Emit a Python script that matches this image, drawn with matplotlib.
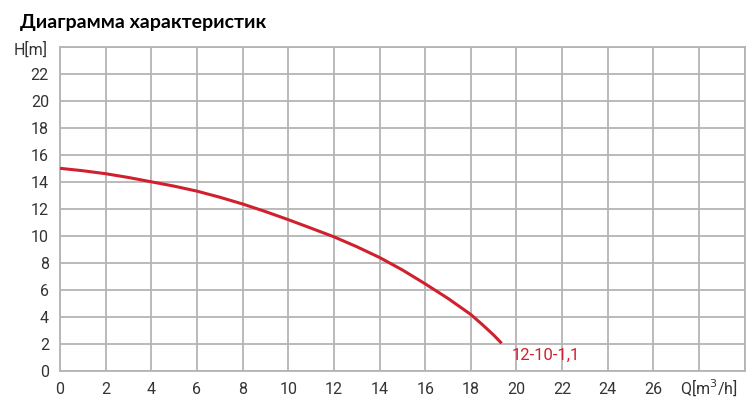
import matplotlib.pyplot as plt

q = [0, 1, 2, 3, 4, 5, 6, 7, 8, 9, 10, 11, 12, 13, 14, 15, 16, 17, 18, 18.5, 19, 19.35]
h = [15.0, 14.82, 14.6, 14.32, 14.0, 13.68, 13.31, 12.86, 12.36, 11.8, 11.2,
     10.57, 9.93, 9.2, 8.4, 7.48, 6.45, 5.37, 4.18, 3.44, 2.66, 2.05]
curve_name = '12-10-1,1'
x_ticks = [0, 2, 4, 6, 8, 10, 12, 14, 16, 18, 20, 22, 24, 26]
y_ticks = [0, 2, 4, 6, 8, 10, 12, 14, 16, 18, 20, 22]

plt.rcParams['font.family'] = ['Roboto', 'DejaVu Sans']

fig = plt.figure(figsize=(7.53, 4.12), dpi=100)
ax = fig.add_axes([0.0797, 0.0995, 0.9093, 0.7872])

grid_col = '#b4b4b4'
for xv in range(0, 31, 2):
    ax.axvline(xv, color=grid_col, lw=1.3, zorder=1)
for yv in range(0, 25, 2):
    ax.axhline(yv, color=grid_col, lw=1.3, zorder=1)

ax.plot(q, h, color='#d0202e', lw=2.2, zorder=3, solid_capstyle='butt')
ax.text(q[-1] + 0.45, h[-1] - 0.9, curve_name, color='#d0202e', fontsize=12,
        va='center', ha='left')

ax.set_xlim(0, 30)
ax.set_ylim(0, 24)
ax.set_xticks(x_ticks)
ax.set_yticks(y_ticks)
ax.tick_params(length=0, labelsize=11.5, colors='#333333', pad=8)
for s in ax.spines.values():
    s.set_color(grid_col)
    s.set_linewidth(1.3)

fig.text(0.018, 0.86, 'H[m]', fontsize=11.5, color='#333333', ha='left', va='bottom')
fig.text(0.903, 0.058, 'Q[m$^3$/h]', fontsize=11.5, color='#333333', ha='left', va='center')
fig.text(0.027, 0.945, 'Диаграмма характеристик', fontsize=14, fontweight='bold',
         family=['Lato', 'DejaVu Sans'], ha='left', va='center')

fig.savefig('out.png', dpi=100)
